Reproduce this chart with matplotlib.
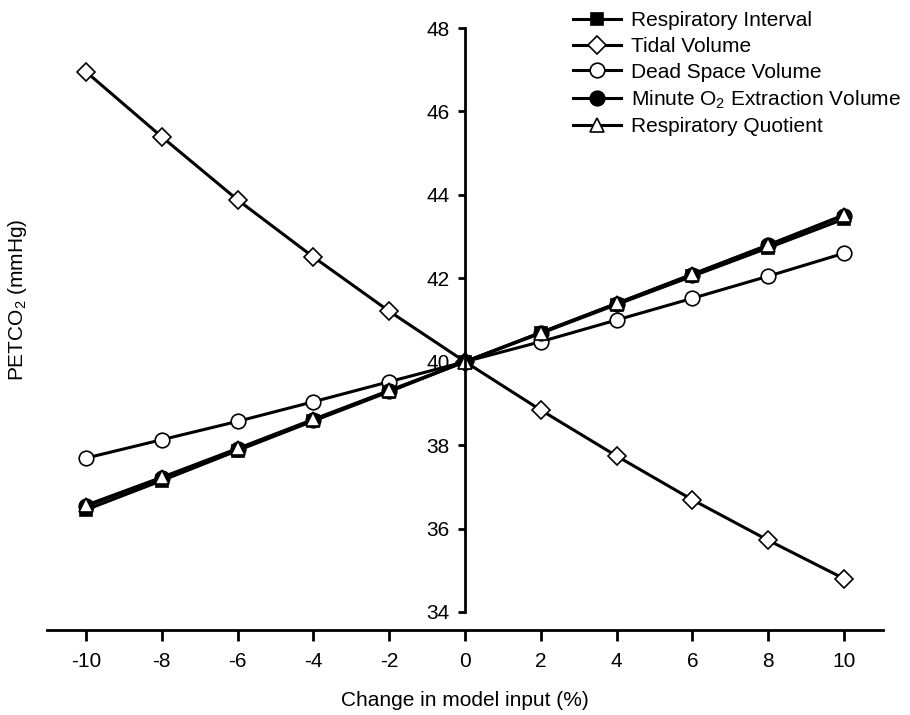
import numpy as np
import matplotlib.pyplot as plt

plt.rcParams['font.family'] = ['Liberation Sans', 'DejaVu Sans']
plt.rcParams['mathtext.fontset'] = 'custom'
plt.rcParams['mathtext.rm'] = 'Liberation Sans'
plt.rcParams['mathtext.it'] = 'Liberation Sans'
plt.rcParams['axes.unicode_minus'] = False

# percent change applied to each model input
change = [-10, -8, -6, -4, -2, 0, 2, 4, 6, 8, 10]

resp_interval = [36.45, 37.15, 37.87, 38.58, 39.28, 40.0, 40.68, 41.37, 42.05, 42.73, 43.42]
tidal_volume = [46.95, 45.39, 43.88, 42.51, 41.21, 40.0, 38.84, 37.74, 36.69, 35.72, 34.80]
dead_space = [37.69, 38.13, 38.57, 39.04, 39.52, 40.0, 40.48, 41.00, 41.52, 42.05, 42.60]
minute_o2 = [36.53, 37.21, 37.90, 38.60, 39.30, 40.0, 40.70, 41.39, 42.09, 42.79, 43.50]
resp_quotient = [36.56, 37.23, 37.92, 38.62, 39.31, 40.0, 40.70, 41.40, 42.10, 42.80, 43.52]

fig = plt.figure(figsize=(9.1, 7.15), dpi=100)
ax = fig.add_axes([47/910, 1-630/715, (883-47)/910, (630-28)/715])

style = dict(color='k', lw=2.2, markeredgecolor='k', markeredgewidth=1.2)
ax.plot(change, resp_interval, marker='s', ms=9, markerfacecolor='k', label='Respiratory Interval', **style)
ax.plot(change, tidal_volume, marker='D', ms=9, markerfacecolor='white', label='Tidal Volume', **style)
ax.plot(change, dead_space, marker='o', ms=10.5, markerfacecolor='white', label='Dead Space Volume', **style)
ax.plot(change, minute_o2, marker='o', ms=10.5, markerfacecolor='k', label='Minute O$_2$ Extraction Volume', **style)
ax.plot(change, resp_quotient, marker='^', ms=10.5, markerfacecolor='white', label='Respiratory Quotient', **style)

ax.set_xlim(-11.03, 11.03)
ax.set_ylim(34 - 18/41.7, 48)

# axes cross at x = 0, y axis only spans the tick range
ax.spines['left'].set_position(('data', 0))
ax.spines['left'].set_bounds(34, 48)
ax.spines['right'].set_visible(False)
ax.spines['top'].set_visible(False)
ax.spines['left'].set_linewidth(2)
ax.spines['bottom'].set_linewidth(2)

ax.set_xticks(np.arange(-10, 11, 2))
ax.set_yticks(np.arange(34, 49, 2))
ax.tick_params(axis='x', direction='out', length=8, width=2, labelsize=15, pad=8)
ax.tick_params(axis='y', direction='out', length=5, width=2, labelsize=15, pad=6)

ax.set_xlabel('Change in model input (%)', fontsize=15, labelpad=14)
fig.text(18/910, 1-300/715, 'PETCO$_2$ (mmHg)', rotation=90, fontsize=15,
         ha='center', va='center')

ax.legend(loc='upper left', bbox_to_anchor=(565/910, 1-3/715), bbox_transform=fig.transFigure,
          frameon=False, fontsize=15, handlelength=2.3, labelspacing=0.32,
          handletextpad=0.45, borderaxespad=0)

fig.savefig('out.png', dpi=100)
